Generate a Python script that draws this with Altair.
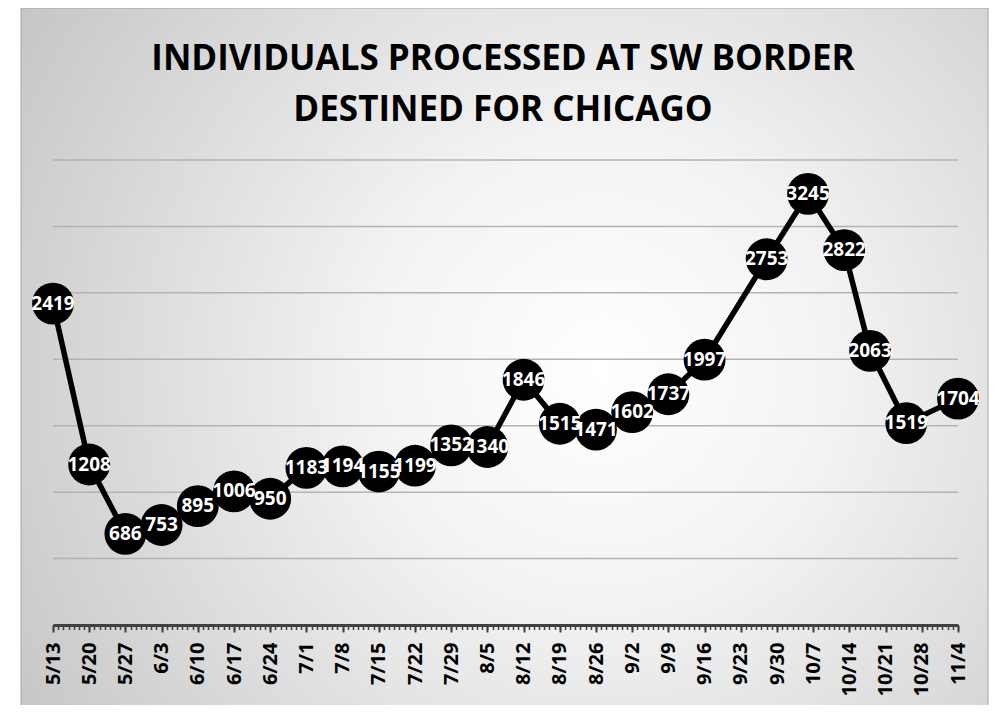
import altair as alt
import pandas as pd

YEAR = 2023
title_lines = ["INDIVIDUALS PROCESSED AT SW BORDER", "DESTINED FOR CHICAGO"]

point_dates = ["2023-05-13", "2023-05-20", "2023-05-27", "2023-06-03", "2023-06-10",
               "2023-06-17", "2023-06-24", "2023-07-01", "2023-07-08", "2023-07-15",
               "2023-07-22", "2023-07-29", "2023-08-05", "2023-08-12", "2023-08-19",
               "2023-08-26", "2023-09-02", "2023-09-09", "2023-09-16", "2023-09-28",
               "2023-10-06", "2023-10-13", "2023-10-18", "2023-10-25", "2023-11-04"]
counts = [2419, 1208, 686, 753, 895, 1006, 950, 1183, 1194, 1155, 1199, 1352, 1340,
          1846, 1515, 1471, 1602, 1737, 1997, 2753, 3245, 2822, 2063, 1519, 1704]

tick_labels = ["5/13", "5/20", "5/27", "6/3", "6/10", "6/17", "6/24", "7/1", "7/8",
               "7/15", "7/22", "7/29", "8/5", "8/12", "8/19", "8/26", "9/2", "9/9",
               "9/16", "9/23", "9/30", "10/7", "10/14", "10/21", "10/28", "11/4"]
grid_values = [500, 1000, 1500, 2000, 2500, 3000, 3500]
y_domain = [0, 3500]

W, H = 905, 465
FONT = "Open Sans"


def dt(label):
    m, d = label.split("/")
    return alt.DateTime(year=YEAR, month=int(m), date=int(d), utc=True)


df = pd.DataFrame({"date": point_dates, "count": counts})
one = pd.DataFrame({"k": [0]})
grid_df = pd.DataFrame({"g": grid_values})

x_scale = alt.Scale(type="utc", domain=[dt(tick_labels[0]), dt(tick_labels[-1])], nice=False)
y_scale = alt.Scale(domain=y_domain, nice=False, zero=True)

major_axis = alt.Axis(
    orient="bottom", values=[dt(l) for l in tick_labels],
    labelExpr="utcFormat(datum.value, '%-m/%-d')",
    labelAngle=270, labelFont=FONT, labelFontSize=20, labelFontWeight="bold",
    labelColor="black", labelPadding=10, labelOverlap=False, labelFlush=False,
    labelBound=False,
    domain=True, domainColor="#404040", domainWidth=3,
    ticks=True, tickSize=7, tickWidth=2, tickColor="#404040",
    grid=False, title=None, zindex=1,
)
minor_axis = alt.Axis(
    orient="bottom", tickCount=alt.TimeIntervalStep(interval="day", step=1),
    labels=False, domain=False, grid=False, title=None,
    ticks=True, tickSize=4.5, tickWidth=1.5, tickColor="#404040", zindex=1,
)

bg_fill = alt.RadialGradient(
    gradient="radial",
    stops=[alt.GradientStop(color="#ffffff", offset=0),
           alt.GradientStop(color="#f3f3f3", offset=0.3),
           alt.GradientStop(color="#bdbdbd", offset=1)],
    x1=0.6, y1=0.5, r1=0, x2=0.6, y2=0.5, r2=0.8,
)

bg = alt.Chart(one).mark_rect(fill=bg_fill, stroke="#a6a6a6", strokeWidth=1).encode(
    x=alt.value(-32), x2=alt.value(935), y=alt.value(-152), y2=alt.value(570)
)

title = alt.Chart(one).mark_text(
    text=title_lines, font=FONT, fontSize=35, fontWeight="bold", color="black",
    align="center", baseline="alphabetic", lineHeight=51
).encode(x=alt.value(450), y=alt.value(-90))

grid = alt.Chart(grid_df).mark_rule(color="#b3b3b3", strokeWidth=1.5).encode(
    y=alt.Y("g:Q", scale=y_scale, axis=None)
)

base = alt.Chart(df)
line = base.mark_line(color="black", strokeWidth=5.5).encode(
    x=alt.X("date:T", scale=x_scale, axis=minor_axis),
    y=alt.Y("count:Q", scale=y_scale, axis=None),
)
pts = base.mark_circle(size=1750, color="black", opacity=1).encode(
    x=alt.X("date:T", scale=x_scale, axis=major_axis),
    y=alt.Y("count:Q", scale=y_scale, axis=None),
)
labels = base.mark_text(
    color="white", font=FONT, fontSize=19, fontWeight="bold",
    align="center", baseline="middle"
).encode(
    x=alt.X("date:T", scale=x_scale, axis=None),
    y=alt.Y("count:Q", scale=y_scale, axis=None),
    text=alt.Text("count:Q", format="d"),
)

chart = alt.layer(bg, title, grid, line, pts, labels).resolve_axis(
    x="independent"
).properties(
    width=W, height=H,
    padding={"left": 45, "top": 152, "right": 36, "bottom": 80},
    autosize=alt.AutoSizeParams(type="none"),
    background="white",
).configure_view(stroke=None)

chart.save("out.html", embed_options={"renderer": "svg", "actions": False})
